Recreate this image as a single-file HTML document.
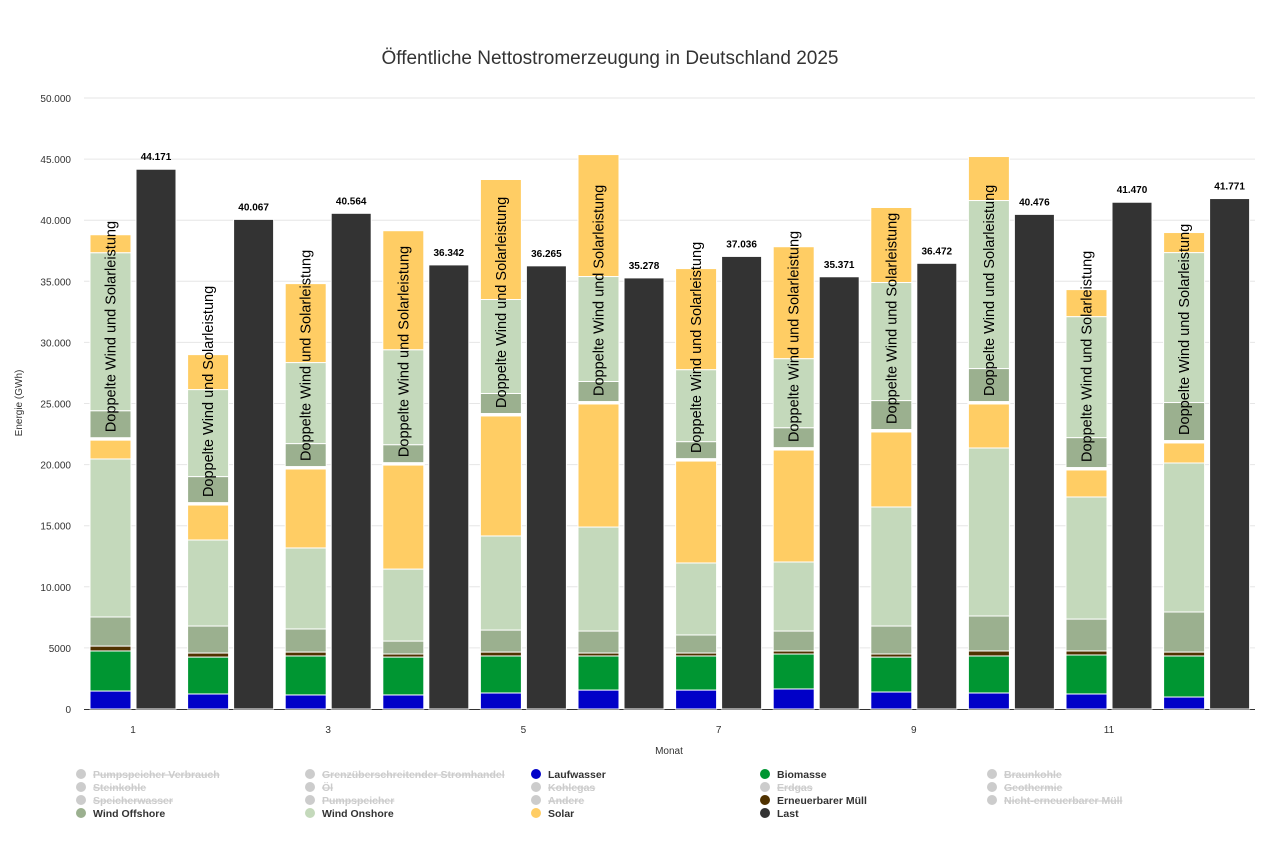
<!DOCTYPE html>
<html><head><meta charset="utf-8"><style>
body{margin:0;background:#fff;font-family:"Liberation Sans",sans-serif;}
svg text{font-family:"Liberation Sans",sans-serif;}
</style></head><body>
<svg id="c" width="1279" height="840">
<rect width="1279" height="840" fill="#fff"/>
<text x="610" y="64" text-anchor="middle" font-size="19" fill="#333">Öffentliche Nettostromerzeugung in Deutschland 2025</text>
<text transform="translate(22,403) rotate(-90)" text-anchor="middle" font-size="10" fill="#333">Energie (GWh)</text>
<text x="669" y="754" text-anchor="middle" font-size="10" fill="#333">Monat</text>
<g id="grid"></g><g id="bars"></g><g id="legend"></g>
</svg>
<script>
const months=[1,2,3,4,5,6,7,8,9,10,11,12];
const laufwasser=[1470,1230,1150,1150,1310,1550,1550,1640,1390,1310,1230,980];
const biomasse=[3280,3020,3190,3100,3030,2790,2790,2860,2860,3030,3190,3360];
const muell=[400,330,320,250,320,240,240,250,250,410,330,320];
const offshore=[2380,2210,1890,1060,1800,1800,1480,1630,2290,2860,2610,3280];
const onshore=[12930,7040,6630,5890,7700,8510,5890,5650,9740,13750,9990,12190];
const solar=[1540,2860,6460,8510,9820,10070,8340,9160,6140,3600,2210,1640];
const offshoreDouble=[2210,2130,1880,1470,1640,1640,1390,1630,2370,2700,2450,3110];
const onshoreDouble=[12930,7120,6630,7770,7690,8590,5890,5650,9660,13750,9900,12270];
const solarDouble=[1470,2860,6460,9740,9820,9980,8270,9160,6140,3600,2210,1640];
const last=[44171,40067,40564,36342,36265,35278,37036,35371,36472,40476,41470,41771];
const yTicks=[0,5000,10000,15000,20000,25000,30000,35000,40000,45000,50000];
const yTickLabels=["0","5000","10.000","15.000","20.000","25.000","30.000","35.000","40.000","45.000","50.000"];
const NS="http://www.w3.org/2000/svg";
const y0=709,yTop=98,yMax=50000,x0=84,gw=97.6;
function Y(v){return y0-(v/yMax)*(y0-yTop);}
function X(i){return x0+gw*i;}
function mk(tag,attrs,parent){const e=document.createElementNS(NS,tag);for(const k in attrs)e.setAttribute(k,attrs[k]);parent.appendChild(e);return e;}
const grid=document.getElementById('grid'),bars=document.getElementById('bars'),leg=document.getElementById('legend');
yTicks.forEach((t,i)=>{
 if(t>0){const l=mk('line',{x1:84,x2:1255,y1:Y(t),y2:Y(t),stroke:'#e6e6e6'},grid);
 
 }
 const tx=mk('text',{x:71,y:Y(t)+4,'text-anchor':'end','font-size':'10',fill:'#333'},grid);tx.textContent=yTickLabels[i];
 
 
});
const ax=mk('line',{x1:84,x2:1255,y1:709.5,y2:709.5,stroke:'#333'},grid);


const cols={lauf:'#0000c8',bio:'#009632',muell:'#503200',off:'#9bb08f',on:'#c4d9bb',sol:'#ffcd64',last:'#333333'};
months.forEach((m,i)=>{
 const bx=X(i)+6,bw=41;
 const segs=[['lauf',laufwasser[i]],['bio',biomasse[i]],['muell',muell[i]],['off',offshore[i]],['on',onshore[i]],['sol',solar[i]]];
 let acc=0;
 segs.forEach(s=>{const r=mk('rect',{x:bx,y:Y(acc+s[1]),width:bw,height:Y(acc)-Y(acc+s[1]),fill:cols[s[0]],stroke:'#fff','stroke-width':1},bars);
  
  
  acc+=s[1];});
 const base=acc;
 const g0=mk('rect',{x:bx-1,y:Y(base)-2.5,width:bw+2,height:2.5,fill:'#fff'},bars);
 
 
 acc=base+200;
 [['off',offshoreDouble[i]],['on',onshoreDouble[i]],['sol',solarDouble[i]]].forEach(s=>{const r=mk('rect',{x:bx,y:Y(acc+s[1]),width:bw,height:Y(acc)-Y(acc+s[1]),fill:cols[s[0]],stroke:'#fff','stroke-width':1},bars);
  
  
  acc+=s[1];});
 const tl=mk('text',{transform:`translate(${bx+bw/2+5},${Y(base)-8}) rotate(-90)`,'font-size':'14.5',fill:'#000'},bars);
 tl.textContent='Doppelte Wind und Solarleistung';
 
 
 const lx=X(i)+52;
 const lr=mk('rect',{x:lx,y:Y(last[i]),width:40,height:y0-Y(last[i]),fill:cols.last,stroke:'#fff','stroke-width':1},bars);
 
 
 const lt=mk('text',{x:lx+20,y:Y(last[i])-9,'text-anchor':'middle','font-size':'10','font-weight':'bold',fill:'#000'},bars);
 lt.textContent=last[i].toLocaleString('de-DE');
 
 
 if(m%2===1){const xt=mk('text',{x:X(i)+49,y:733,'text-anchor':'middle','font-size':'10',fill:'#333'},bars);xt.textContent=m;
  
  }
});
const legendItems=[
['Pumpspeicher Verbrauch',0,0,'#ccc',1],['Grenzüberschreitender Stromhandel',1,0,'#ccc',1],['Laufwasser',2,0,cols.lauf,0],['Biomasse',3,0,cols.bio,0],['Braunkohle',4,0,'#ccc',1],
['Steinkohle',0,1,'#ccc',1],['Öl',1,1,'#ccc',1],['Kohlegas',2,1,'#ccc',1],['Erdgas',3,1,'#ccc',1],['Geothermie',4,1,'#ccc',1],
['Speicherwasser',0,2,'#ccc',1],['Pumpspeicher',1,2,'#ccc',1],['Andere',2,2,'#ccc',1],['Erneuerbarer Müll',3,2,cols.muell,0],['Nicht-erneuerbarer Müll',4,2,'#ccc',1],
['Wind Offshore',0,3,cols.off,0],['Wind Onshore',1,3,cols.on,0],['Solar',2,3,cols.sol,0],['Last',3,3,cols.last,0]];
const lcx=[81,310,536,765,992];
legendItems.forEach(it=>{
 const g=mk('g',{},leg);
 
 
 const yy=775+it[2]*13;
 mk('circle',{cx:lcx[it[1]],cy:yy-1,r:5,fill:it[3]},g);
 const t=mk('text',{x:lcx[it[1]]+12,y:yy+3,'font-size':'10.5','font-weight':'bold',fill:it[4]?'#ccc':'#333','text-decoration':it[4]?'line-through':'none'},g);
 t.textContent=it[0];
});
</script>
</body></html>
